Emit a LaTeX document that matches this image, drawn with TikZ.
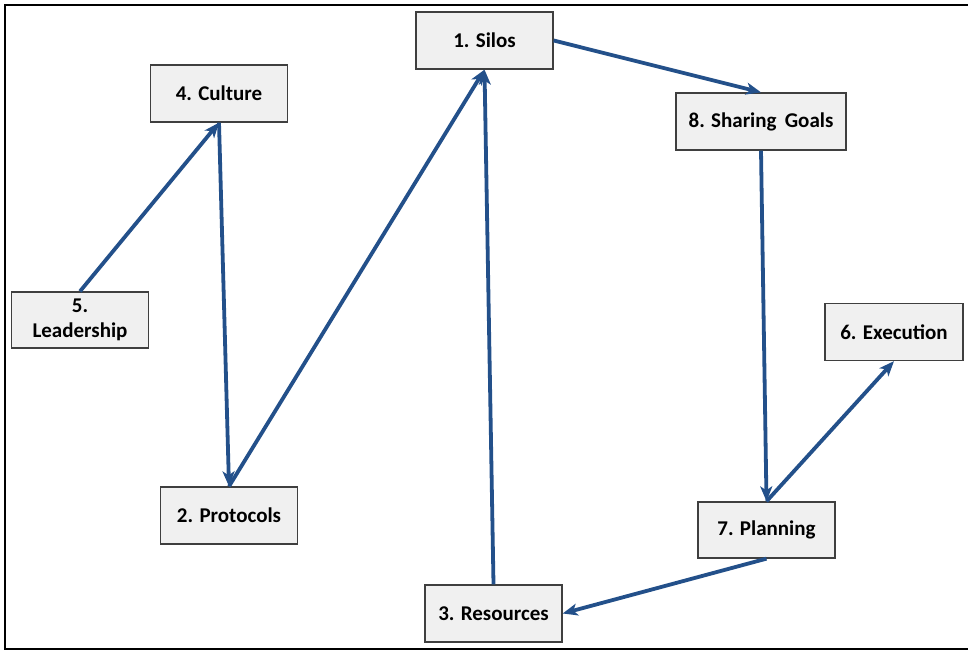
\documentclass[tikz,border=0pt]{standalone}
\usepackage{fontspec}
\setmainfont{Carlito}
\usepackage{xcolor}
\usetikzlibrary{arrows.meta, shapes}

\definecolor{boxfill}{HTML}{F0F0F0}
\definecolor{boxline}{HTML}{3F3F3F}
\definecolor{flowblue}{HTML}{23508A}

\begin{document}
\begin{tikzpicture}[x=1pt, y=-1pt,
    stage/.style={rectangle, draw=boxline, line width=1.3pt, fill=boxfill,
        minimum width=137pt, minimum height=57pt, inner sep=0pt, align=center,
        font=\fontsize{21}{25}\selectfont\bfseries},
    flow/.style={-{Stealth[length=15pt, width=12pt, inset=4pt]}, draw=flowblue, line width=3.8pt}]
            \useasboundingbox (0,0) rectangle (968,652);
            % Frame
            \draw[line width=2.8pt] (980,5) -- (5,5) -- (5,649) -- (980,649);
            
            % Nodes
            \node [stage] (silos) at (484.5,40.5) {1. Silos};
            \node [stage] (culture) at (219,93.5) {4. Culture};
            \node [stage, minimum width=170pt] (sharing) at (761,121.5) {8. Sharing\, Goals};
            \node [stage, minimum height=56pt] (leadership) at (80,320) {5.\\Leadership};
            \node [stage, minimum width=138pt] (execution) at (894,332) {6. Execution};
            \node [stage] (protocols) at (229,515.5) {2. Protocols};
            \node [stage, minimum height=56pt] (planning) at (766.5,530) {7. Planning};
            \node [stage] (resources) at (493.5,613.5) {3. Resources};
            
            % Paths
            \draw[flow] (leadership.north) -- (culture.south);
            \draw[flow] (culture.south) -- (protocols.north);
            \draw[flow] (protocols.north) -- (silos.south);
            \draw[flow] (resources.north) -- (silos.south);
            \draw[flow] (silos.east) -- (sharing.north);
            \draw[flow] (sharing.south) -- (planning.north);
            \draw[flow] (planning.north) -- (execution.south);
            \draw[flow] (planning.south) -- (resources.east);
        \end{tikzpicture}
\end{document}
